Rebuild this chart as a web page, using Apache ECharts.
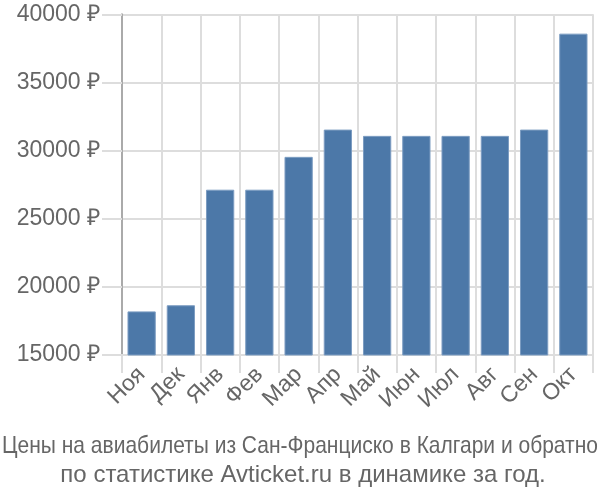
<!DOCTYPE html>
<html><head><meta charset="utf-8">
<script src="https://cdn.jsdelivr.net/npm/echarts@6/dist/echarts.min.js"></script>
<style>html,body{margin:0;padding:0;background:#fff}#c{width:600px;height:500px}</style>
</head><body><div id="c"></div>
<script>
const categories = ['Ноя','Дек','Янв','Фев','Мар','Апр','Май','Июн','Июл','Авг','Сен','Окт'];
const prices = [18200, 18650, 27130, 27130, 29540, 31540, 31080, 31080, 31080, 31080, 31540, 38580];
const yTicks = [15000, 20000, 25000, 30000, 35000, 40000];
const titleLines = ['Цены на авиабилеты из Сан-Франциско в Калгари и обратно', 'по статистике Avticket.ru в динамике за год.'];

const chart = echarts.init(document.getElementById('c'));
const titleStyle = {fontFamily: 'Liberation Sans, sans-serif', fontSize: 24, fill: '#666', textAlign: 'center', textVerticalAlign: 'middle'};
chart.setOption({
  animation: false,
  graphic: [
    {type: 'text', x: 300, y: 446, scaleX: 0.875, style: Object.assign({text: titleLines[0]}, titleStyle)},
    {type: 'text', x: 303, y: 475, style: Object.assign({text: titleLines[1]}, titleStyle)}
  ],
  grid: {left: 122, right: 7, top: 14.3, bottom: 145, containLabel: false},
  xAxis: {
    type: 'category', data: categories,
    axisLine: {show: true, lineStyle: {color: '#ddd', width: 2}},
    axisTick: {show: true, interval: 0, length: 18, lineStyle: {color: '#ddd', width: 2}},
    splitLine: {show: true, interval: 0, lineStyle: {color: '#ddd', width: 2}},
    axisLabel: {rotate: 45, interval: 0, fontSize: 23, color: '#666', fontFamily: 'Liberation Sans, sans-serif', margin: 16}
  },
  yAxis: {
    type: 'value', min: yTicks[0], max: yTicks[yTicks.length-1], interval: 5000,
    axisLine: {show: true, lineStyle: {color: '#aaa', width: 2}},
    axisTick: {show: true, length: 20, lineStyle: {color: '#ddd', width: 2}},
    splitLine: {show: true, lineStyle: {color: '#ddd', width: 2}},
    axisLabel: {fontSize: 23, color: '#666', fontFamily: 'Liberation Sans, sans-serif', margin: 22, formatter: v => v + ' ₽'}
  },
  series: [{
    type: 'bar', data: prices, barCategoryGap: '28%',
    itemStyle: {color: '#4c78a8', borderColor: '#7d9dc2', borderWidth: 1}
  }]
});
</script></body></html>
